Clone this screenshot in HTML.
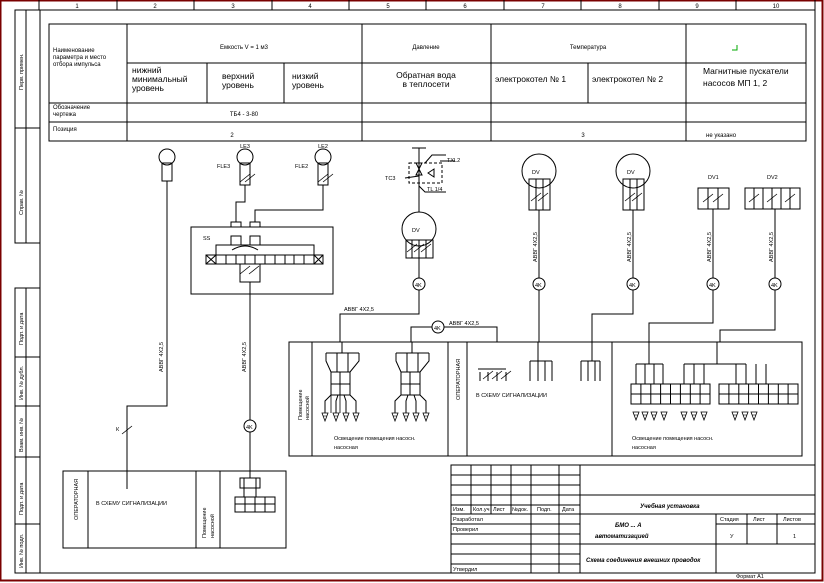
<!DOCTYPE html>
<html><head><meta charset="utf-8"><style>
html,body{margin:0;padding:0;background:#fff}
svg{display:block}
text{font-family:"Liberation Sans","DejaVu Sans",sans-serif;fill:#000}
</style></head><body>
<svg width="824" height="583" viewBox="0 0 824 583" xmlns="http://www.w3.org/2000/svg">
<defs>
<g id="arr"><path d="M-3,0 L3,0 L0,8 Z" fill="none" stroke="#000" stroke-width="0.8"/><line x1="-2" y1="3" x2="2" y2="3" stroke="#000" stroke-width="0.6"/></g>
<g id="fun" fill="none" stroke="#000" stroke-width="1">
<path d="M326,353 H359 M326,353 V361 L331,372 M337,353 V361 M348,353 V361 M359,353 V361 L350,372 M342,342 V353 M337,361 V372 M348,361 V372"/>
<rect x="331" y="372" width="19" height="23"/><line x1="331" y1="384" x2="350" y2="384"/><line x1="340" y1="372" x2="340" y2="395"/>
<path d="M331,395 L325,401 V413 M338,395 L336,401 V413 M344,395 L346,401 V413 M350,395 L356,401 V413"/>
</g>
<g id="term" fill="none" stroke="#000" stroke-width="1">
<rect x="0" y="0" width="79" height="20"/><line x1="0" y1="10" x2="79" y2="10"/>
<path d="M9.9,0V20M19.8,0V20M29.6,0V20M39.5,0V20M49.4,0V20M59.3,0V20M69.1,0V20"/>
</g>
<g id="cut"><line x1="-5" y1="4" x2="5" y2="-4" stroke="#000" stroke-width="0.8"/></g>
</defs>

<!-- outer red border -->
<rect x="0.5" y="0.5" width="822" height="580" fill="none" stroke="#7a0000" stroke-width="2"/>
<g fill="none" stroke="#000" stroke-width="1">
<!-- top strip -->
<line x1="39" y1="0" x2="39" y2="10"/>
<line x1="39" y1="10" x2="815" y2="10"/>
<path d="M117,0V10M194,0V10M272,0V10M349,0V10M426,0V10M504,0V10M581,0V10M659,0V10M736,0V10"/>
<!-- inner frame -->
<line x1="40" y1="10" x2="40" y2="573"/>
<line x1="815" y1="0" x2="815" y2="573"/>
<line x1="40" y1="573" x2="815" y2="573"/>
<!-- left strips -->
<rect x="15" y="10" width="25" height="233"/><line x1="26" y1="10" x2="26" y2="243"/><line x1="15" y1="128" x2="40" y2="128"/>
<rect x="15" y="288" width="25" height="285"/><line x1="26" y1="288" x2="26" y2="573"/>
<path d="M15,357H40M15,406H40M15,457H40M15,524H40"/>

<!-- top table -->
<rect x="49" y="24" width="757" height="117"/>
<path d="M49,103H806M49,122H806M127,63H806"/>
<path d="M127,24V141M362,24V141M491,24V141M686,24V141M207,63V103M284,63V103M588,63V103"/>

<!-- lamps -->
<circle cx="167" cy="157" r="8"/><rect x="162" y="163" width="10" height="18"/>
<circle cx="245" cy="157" r="8"/><rect x="240" y="163" width="10" height="22"/>
<circle cx="323" cy="157" r="8"/><rect x="318" y="163" width="10" height="22"/>
<path d="M167,181V406H127V489"/>
<path d="M245,185V202H236V222M323,185V210H255V222"/>
<!-- SS box -->
<rect x="191" y="227" width="142" height="67"/>
<rect x="231" y="222" width="10" height="5"/><rect x="250" y="222" width="10" height="5"/>
<rect x="231" y="236" width="10" height="9"/><rect x="250" y="236" width="10" height="9"/>
<rect x="216" y="245" width="98" height="10"/>
<rect x="206" y="255" width="117" height="9"/>
<path d="M216,255V264M226,255V264M236,255V264M245,255V264M255,255V264M265,255V264M275,255V264M285,255V264M294,255V264M304,255V264M314,255V264"/>
<path d="M206,255L216,264M216,255L206,264M314,255L323,264M323,255L314,264"/>
<path d="M232,250Q245,242 258,250"/>
<rect x="240" y="264" width="20" height="18"/>
<path d="M250,282V420M250,432V478"/>
<circle cx="250" cy="426" r="6"/>
<rect x="240" y="478" width="20" height="10"/><path d="M244,478V497M256,478V497"/>
<rect x="235" y="497" width="40" height="15"/><path d="M235,504H275M245,497V512M255,497V512M265,497V512"/>

<!-- DV with valves -->
<path d="M419,148V212M412,148H426"/>
<rect x="409" y="163" width="33" height="20" stroke-dasharray="3,2"/>
<path d="M416,163L422,163L419,169Z M416,175L422,175L419,169Z M428,173L434,169L434,177Z"/>
<path d="M405,178L419,176M419,186L425,192H446M425,163L432,155H446M440,161H455"/>
<circle cx="419" cy="229" r="17"/>
<rect x="406" y="240" width="27" height="18"/><path d="M412,240V258M419,240V258M426,240V258"/>
<path d="M419,258V278M419,290V314H340V342"/><circle cx="419" cy="284" r="6"/>
<path d="M411,342V327H432M444,327H497V342"/><circle cx="438" cy="327" r="6"/>

<circle cx="539" cy="171" r="17"/><rect x="529" y="179" width="21" height="31"/><path d="M536,179V210M543,179V210"/>
<path d="M539,210V278M539,290V342"/><circle cx="539" cy="284" r="6"/>
<circle cx="633" cy="171" r="17"/><rect x="623" y="179" width="21" height="31"/><path d="M630,179V210M637,179V210"/>
<path d="M633,210V278M633,290V314H592V342"/><circle cx="633" cy="284" r="6"/>
<rect x="698" y="188" width="31" height="21"/><path d="M708,188V209M718,188V209"/>
<path d="M713,209V278M713,290V323H649V342"/><circle cx="713" cy="284" r="6"/>
<rect x="745" y="188" width="55" height="21"/><path d="M754,188V209M763,188V209M772,188V209M781,188V209M790,188V209"/>
<path d="M775,209V278M775,290V330H720V342"/><circle cx="775" cy="284" r="6"/>

<!-- middle panel -->
<rect x="289" y="342" width="513" height="114"/>
<path d="M312,342V456M448,342V456M467,342V456M612,342V456"/>
<path d="M480,372V381M488,372V381M497,372V381M506,372V381M478,369H506"/>
<path d="M530,361H552M530,361V381M538,361V381M545,361V381M552,361V381M538,342V361"/>
<path d="M581,361H600M581,361V381M588,361V381M595,361V381M600,361V381M592,342V361"/>
<path d="M636,364H663M636,364V384M645,364V384M654,364V384M663,364V384M649,342V364"/>
<path d="M684,364H746M684,364V384M694,364V384M704,364V384M736,364V384M746,364V384M756,364V384M766,364V384M717,342V364"/>

<!-- bottom-left panel -->
<rect x="63" y="471" width="223" height="77"/>
<path d="M88,471V548M196,471V548M220,471V548"/>

<!-- title block -->
<rect x="451" y="465" width="364" height="108"/>
<path d="M451,475H580M451,485H580M451,495H815M451,505H580M451,514H815M451,524H580M716,524H815M451,534H580M451,544H815M451,554H580M451,564H580"/>
<path d="M471,465V514M491,465V514M511,465V514M531,465V573M559,465V573M580,465V573M716,514V573M747,514V544M777,514V544"/>
</g>
<g stroke="#000" stroke-width="0.8">
<use href="#cut" x="245" y="178"/><use href="#cut" x="250" y="178"/>
<use href="#cut" x="323" y="178"/><use href="#cut" x="328" y="178"/>
<use href="#cut" x="245" y="270"/><use href="#cut" x="254" y="270"/>
<use href="#cut" x="127" y="430"/>
<use href="#cut" x="412" y="248"/><use href="#cut" x="419" y="248"/><use href="#cut" x="426" y="248"/>
<use href="#cut" x="536" y="197"/><use href="#cut" x="543" y="197"/>
<use href="#cut" x="630" y="197"/><use href="#cut" x="637" y="197"/>
<use href="#cut" x="708" y="198"/><use href="#cut" x="718" y="198"/>
<use href="#cut" x="754" y="198"/><use href="#cut" x="772" y="198"/><use href="#cut" x="790" y="198"/>
<use href="#cut" x="488" y="375"/><use href="#cut" x="497" y="375"/><use href="#cut" x="506" y="375"/>
</g>
<use href="#fun"/><use href="#fun" x="70"/>
<use href="#term" x="631" y="384"/><use href="#term" x="719" y="384"/>
<g>
<use href="#arr" x="325" y="413"/><use href="#arr" x="336" y="413"/><use href="#arr" x="346" y="413"/><use href="#arr" x="356" y="413"/>
<use href="#arr" x="395" y="413"/><use href="#arr" x="406" y="413"/><use href="#arr" x="416" y="413"/><use href="#arr" x="426" y="413"/>
<use href="#arr" x="636" y="412"/><use href="#arr" x="645" y="412"/><use href="#arr" x="654" y="412"/><use href="#arr" x="664" y="412"/>
<use href="#arr" x="684" y="412"/><use href="#arr" x="694" y="412"/><use href="#arr" x="704" y="412"/>
<use href="#arr" x="735" y="412"/><use href="#arr" x="745" y="412"/><use href="#arr" x="754" y="412"/>
</g>
<g stroke="#000" fill="none" stroke-width="0.8">
<path d="M331,395V413M340,395V413"/>
</g>
<path d="M737,45V50H732" stroke="#0a0" fill="none"/>

<!-- texts -->
<g font-size="6">
<text x="77" y="8" text-anchor="middle">1</text><text x="155" y="8" text-anchor="middle">2</text><text x="233" y="8" text-anchor="middle">3</text><text x="310" y="8" text-anchor="middle">4</text><text x="388" y="8" text-anchor="middle">5</text><text x="465" y="8" text-anchor="middle">6</text><text x="543" y="8" text-anchor="middle">7</text><text x="620" y="8" text-anchor="middle">8</text><text x="697" y="8" text-anchor="middle">9</text><text x="776" y="8" text-anchor="middle">10</text>
<text x="53" y="52">Наименование</text><text x="53" y="59">параметра и место</text><text x="53" y="66">отбора импульса</text>
<text x="244" y="49" text-anchor="middle">Емкость V = 1 м3</text>
<text x="426" y="49" text-anchor="middle">Давление</text>
<text x="588" y="49" text-anchor="middle">Температура</text>
<text x="53" y="109">Обозначение</text><text x="53" y="116">чертежа</text>
<text x="244" y="116" text-anchor="middle">ТБ4 - 3-80</text>
<text x="53" y="131">Позиция</text>
<text x="232" y="137" text-anchor="middle">2</text><text x="583" y="137" text-anchor="middle">3</text><text x="706" y="137">не указано</text>
</g>
<g font-size="8.5">
<text x="132" y="73">нижний</text><text x="132" y="82">минимальный</text><text x="132" y="91">уровень</text>
<text x="222" y="79">верхний</text><text x="222" y="88">уровень</text>
<text x="292" y="79">низкий</text><text x="292" y="88">уровень</text>
<text x="426" y="78" text-anchor="middle">Обратная вода</text><text x="426" y="87" text-anchor="middle">в теплосети</text>
<text x="495" y="82">электрокотел № 1</text>
<text x="592" y="82">электрокотел № 2</text>
<text x="703" y="74">Магнитные пускатели</text><text x="703" y="86">насосов МП 1, 2</text>
</g>
<g font-size="5.5">
<text x="245" y="148" text-anchor="middle">LE3</text><text x="323" y="148" text-anchor="middle">LE2</text>
<text x="217" y="168">FLE3</text><text x="295" y="168">FLE2</text>
<text x="203" y="240">SS</text>
<text x="412" y="232">DV</text><text x="532" y="174">DV</text><text x="627" y="174">DV</text>
<text x="708" y="179">DV1</text><text x="767" y="179">DV2</text>
<text x="385" y="180">TC3</text><text x="447" y="162">TXL2</text><text x="427" y="191">TL 1/4</text>
<text x="415" y="287">4K</text><text x="535" y="287">4K</text><text x="629" y="287">4K</text><text x="709" y="287">4K</text><text x="771" y="287">4K</text><text x="434" y="330">4K</text><text x="246" y="429">4K</text>
<text x="344" y="311">АВВГ 4Х2,5</text><text x="449" y="325">АВВГ 4Х2,5</text>
<text x="116" y="431">К</text>
<text x="476" y="397">В СХЕМУ СИГНАЛИЗАЦИИ</text>
<text x="96" y="505">В СХЕМУ СИГНАЛИЗАЦИИ</text>
<text x="334" y="440">Освещение помещения насосн.</text><text x="334" y="449">насосная</text>
<text x="632" y="440">Освещение помещения насосн.</text><text x="632" y="449">насосная</text>
<text x="736" y="578">Формат А1</text>
<text x="453" y="511">Изм.</text><text x="473" y="511">Кол.уч</text><text x="493" y="511">Лист</text><text x="512" y="511">№док.</text><text x="537" y="511">Подп.</text><text x="562" y="511">Дата</text>
<text x="453" y="521">Разработал</text><text x="453" y="531">Проверил</text><text x="453" y="571">Утвердил</text>
<text x="720" y="521">Стадия</text><text x="753" y="521">Лист</text><text x="783" y="521">Листов</text>
<text x="730" y="538">У</text><text x="793" y="538">1</text>
</g>
<g font-size="6" font-style="italic" font-weight="bold">
<text x="640" y="508">Учебная установка</text>
<text x="615" y="527">БМО ... А</text><text x="595" y="538">автоматизацией</text>
<text x="586" y="562">Схема соединения внешних проводок</text>
</g>
<g font-size="5.5">
<text transform="translate(163,372) rotate(-90)">АВВГ 4Х2,5</text>
<text transform="translate(246,372) rotate(-90)">АВВГ 4Х2,5</text>
<text transform="translate(537,262) rotate(-90)">АВВГ 4Х2,5</text>
<text transform="translate(631,262) rotate(-90)">АВВГ 4Х2,5</text>
<text transform="translate(711,262) rotate(-90)">АВВГ 4Х2,5</text>
<text transform="translate(773,262) rotate(-90)">АВВГ 4Х2,5</text>
<text transform="translate(78,520) rotate(-90)" fill="#888">ОПЕРАТОРНАЯ</text>
<text transform="translate(460,400) rotate(-90)" fill="#888">ОПЕРАТОРНАЯ</text>
<text transform="translate(302,420) rotate(-90)">Помещение</text><text transform="translate(309,420) rotate(-90)">насосной</text>
<text transform="translate(206,538) rotate(-90)">Помещение</text><text transform="translate(214,538) rotate(-90)">насосной</text>
<text transform="translate(23,90) rotate(-90)">Перв. примен.</text>
<text transform="translate(23,215) rotate(-90)">Справ. №</text>
<text transform="translate(23,345) rotate(-90)">Подп. и дата</text>
<text transform="translate(23,400) rotate(-90)">Инв. № дубл.</text>
<text transform="translate(23,452) rotate(-90)">Взам. инв. №</text>
<text transform="translate(23,515) rotate(-90)">Подп. и дата</text>
<text transform="translate(23,568) rotate(-90)">Инв. № подл.</text>
</g>
</svg>
</body></html>
